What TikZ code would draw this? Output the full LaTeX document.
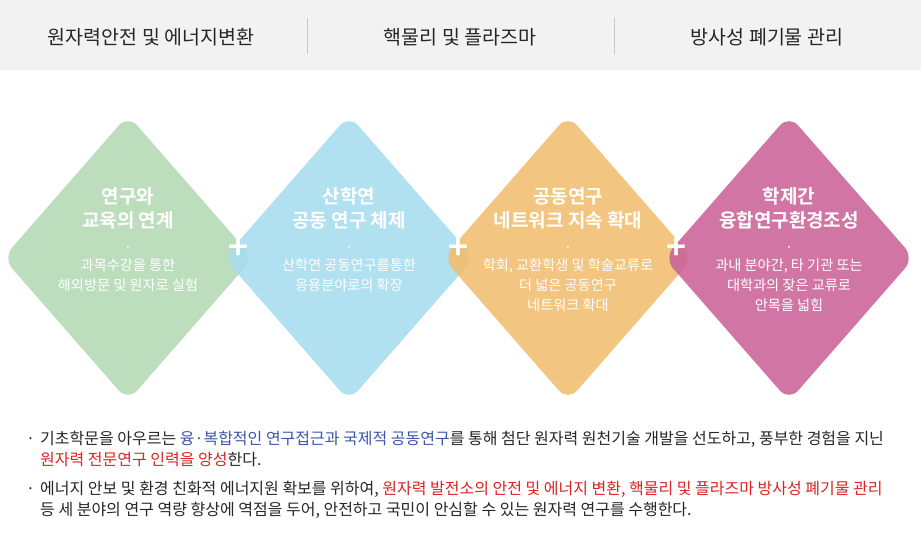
\documentclass[tikz,border=0pt]{standalone}
\usepackage{fontspec}
\setmainfont{Noto Sans CJK KR}
\newfontfamily\krbold{Noto Sans CJK KR Bold}
\usetikzlibrary{positioning}
\definecolor{headgray}{HTML}{F2F2F2}
\definecolor{rulegray}{HTML}{C8C8C8}
\definecolor{leafgreen}{HTML}{B3DAB3}
\definecolor{skyblue}{HTML}{A6DCEF}
\definecolor{sandorange}{HTML}{F0BD6E}
\definecolor{rosepink}{HTML}{CB6397}
\definecolor{linkblue}{HTML}{3A56A8}
\definecolor{markred}{HTML}{DD2222}
\tikzset{
  field/.style={fill=#1, opacity=0.88, rounded corners=14pt},
  headtext/.style={font=\fontsize{19.5}{22}\selectfont, text=black!85},
  boxtitle/.style={font=\krbold\fontsize{19}{24}\selectfont, text=white, align=center},
  boxnote/.style={font=\fontsize{14.2}{20}\selectfont, text=white, align=center},
  plussign/.style={font=\krbold\fontsize{34}{34}\selectfont, text=white},
  bodytext/.style={font=\fontsize{16}{21}\selectfont, text=black!85, anchor=north west, align=left, inner sep=0pt}
}
\newcommand\diamondat[2]{\fill[field=#2] (#1-125,258) -- ++(125,-143) -- ++(125,143) -- ++(-125,143) -- cycle;}
\begin{document}
\begin{tikzpicture}[x=1pt,y=-1pt]
  \useasboundingbox (0,0) rectangle (921,546);
  % header band
  \fill[headgray] (0,0) rectangle (921,70);
  \node[headtext] (h1) at (151,37) {원자력안전 및 에너지변환};
  \node[headtext] (h2) at (460,37) {핵물리 및 플라즈마};
  \node[headtext] (h3) at (767,37) {방사성 폐기물 관리};
  \draw[rulegray] (307,18) -- (307,54);
  \draw[rulegray] (614,18) -- (614,54);
  % diamonds
  \diamondat{128}{leafgreen}
  \diamondat{349}{skyblue}
  \diamondat{568}{sandorange}
  \diamondat{789}{rosepink}
  \node[boxtitle] (t1) at (128,208) {연구와\\교육의 연계};
  \node[boxtitle] (t2) at (349,208) {산학연\\공동 연구 체제};
  \node[boxtitle] (t3) at (568,208) {공동연구\\네트워크 지속 확대};
  \node[boxtitle] (t4) at (789,208) {학제간\\융합연구환경조성};
  \foreach \n/\x in {1/128,2/349,3/568,4/789}
    \node[boxnote] (d\n) at (\x,249) {·};
  \node[boxnote, below=0pt of d1] (n1) {과목수강을 통한\\해외방문 및 원자로 실험};
  \node[boxnote, below=0pt of d2] (n2) {산학연 공동연구를통한\\응용분야로의 확장};
  \node[boxnote, below=0pt of d3] (n3) {학회, 교환학생 및 학술교류로\\더 넓은 공동연구\\네트워크 확대};
  \node[boxnote, below=0pt of d4] (n4) {과내 분야간, 타 기관 또는\\대학과의 잦은 교류로\\안목을 넓힘};
  \node[plussign] (p1) at (239,249) {+};
  \node[plussign] (p2) at (459,249) {+};
  \node[plussign] (p3) at (677,249) {+};
  % statements
  \node[bodytext] (b1) at (26,437) {·};
  \node[bodytext] (s1) at (40,431) {기초학문을 아우르는 \textcolor{linkblue}{융·복합적인 연구접근과 국제적 공동연구}를 통해 첨단 원자력 원천기술 개발을 선도하고, 풍부한 경험을 지닌\\\textcolor{markred}{원자력 전문연구 인력을 양성}한다.};
  \node[bodytext] (b2) at (26,487) {·};
  \node[bodytext] (s2) at (40,481) {에너지 안보 및 환경 친화적 에너지원 확보를 위하여, \textcolor{markred}{원자력 발전소의 안전 및 에너지 변환, 핵물리 및 플라즈마 방사성 폐기물 관리}\\등 세 분야의 연구 역량 향상에 역점을 두어, 안전하고 국민이 안심할 수 있는 원자력 연구를 수행한다.};
\end{tikzpicture}
\end{document}
